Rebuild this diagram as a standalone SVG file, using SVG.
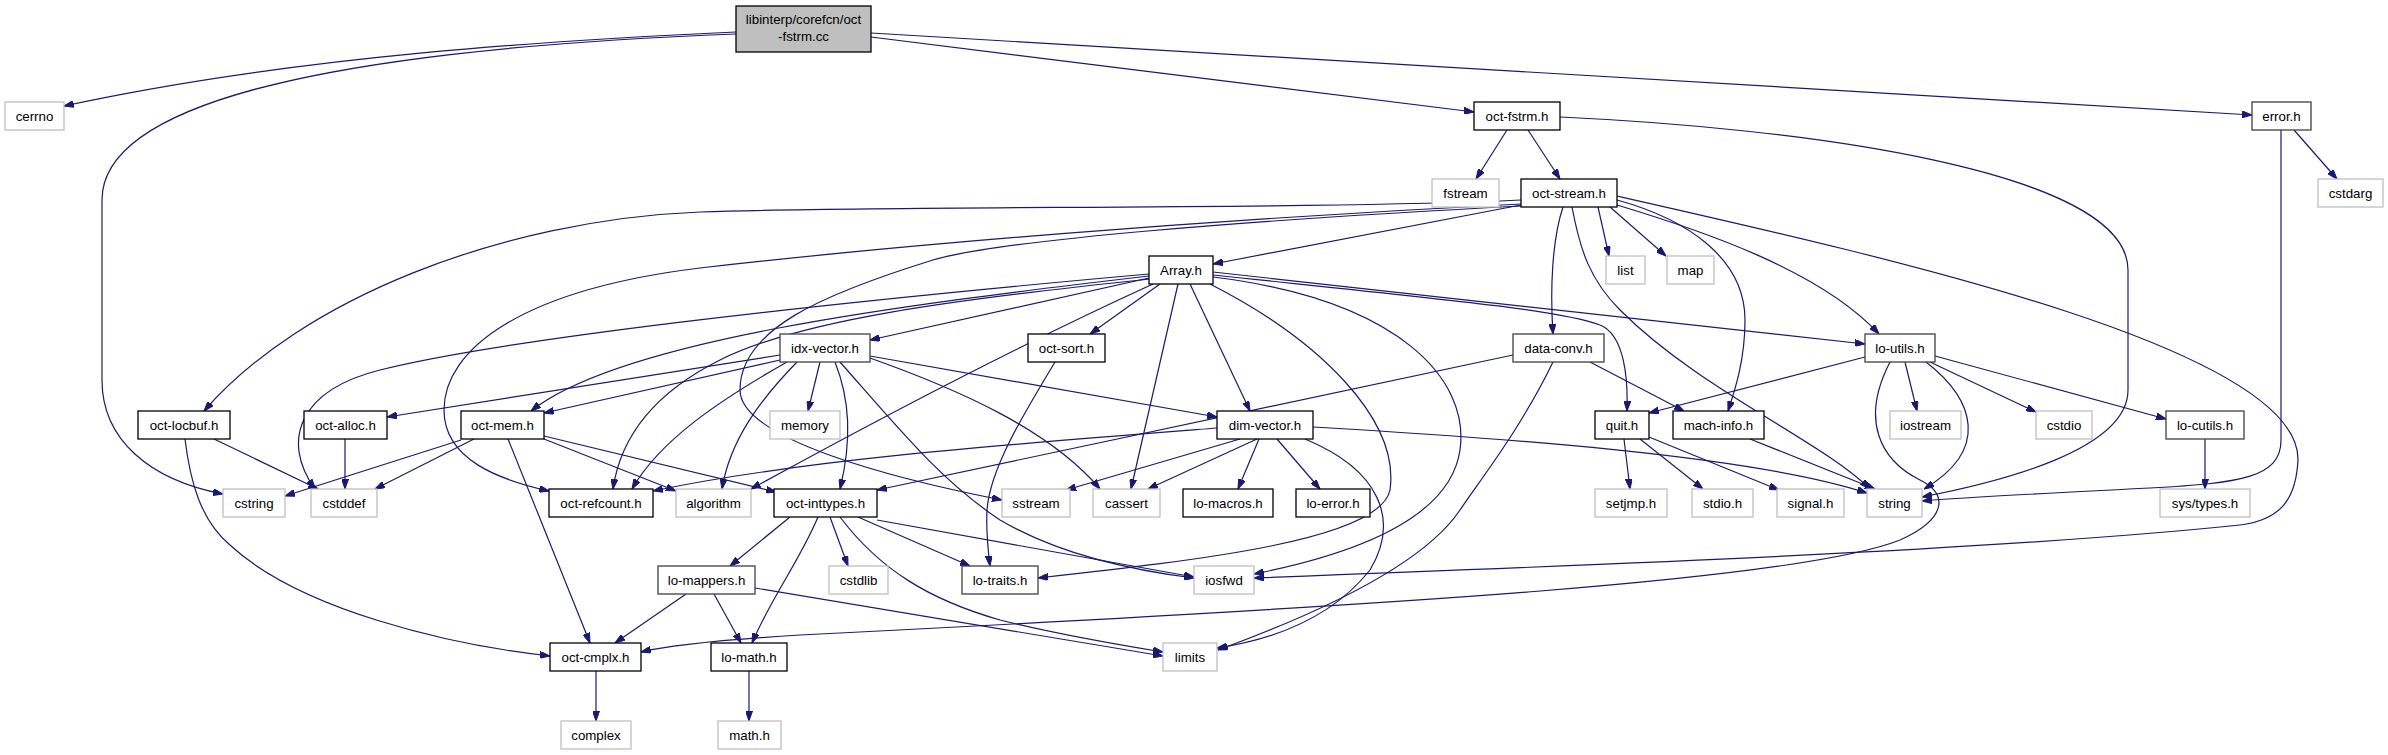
<svg xmlns="http://www.w3.org/2000/svg" width="2388" height="755" viewBox="0 0 2388 755">
<style>
.node rect{fill:#ffffff;stroke:#000000;stroke-width:1.3}
.node.ext rect{stroke:#bfbfbf}
.node.dk rect{stroke:#404040}
.node.main rect{fill:#bfbfbf}
.node text{font-family:"Liberation Sans",Arial,Helvetica,sans-serif;font-size:13.3px;fill:#000000;text-anchor:middle}
#edges path{fill:none;stroke:#191970;stroke-width:1.2;marker-end:url(#arr)}
</style>
<defs>
<marker id="arr" viewBox="0 0 10 7" refX="10" refY="3.5" markerWidth="10" markerHeight="7" markerUnits="userSpaceOnUse" orient="auto">
<path d="M0,0 L10,3.5 L0,7 z" fill="#191970" stroke="#191970"/>
</marker>
</defs>
<rect width="2388" height="755" fill="#ffffff"/>
<g id="edges">
<path d="M736,32 C560,40 300,55 64,106"/>
<path d="M736,34 C450,45 102,80 102,200 L102,380 C102,440 150,480 223,494"/>
<path d="M871,37 L1474,112"/>
<path d="M871,33 L2252,115"/>
<path d="M1507,130 L1476,179"/>
<path d="M1528,130 L1560,179"/>
<path d="M1560,117 C1800,128 2128,170 2128,270 L2128,390 C2128,450 2000,482 1922,497"/>
<path d="M2294,130 L2337,179"/>
<path d="M2281,130 L2281,440 C2281,478 2240,483 2150,488 C2050,493 1970,497 1922,501"/>
<path d="M1521,200 C1300,210 900,205 700,212 C500,220 300,300 204,411"/>
<path d="M1521,204 C1200,220 900,245 700,268 C520,290 444,350 444,410 C444,460 500,480 549,491"/>
<path d="M1521,206 C1250,220 1000,240 933,260 C820,295 740,330 740,390 C740,440 900,480 1002,500"/>
<path d="M1521,205 L1213,264"/>
<path d="M1598,207 L1609,256"/>
<path d="M1610,207 L1666,256"/>
<path d="M1563,207 C1552,240 1550,290 1553,334"/>
<path d="M1617,200 C1690,220 1745,260 1745,320 C1745,360 1735,390 1728,411"/>
<path d="M1572,207 C1580,250 1590,280 1620,310 C1700,390 1820,440 1870,489"/>
<path d="M1617,205 C1700,230 1820,270 1879,334"/>
<path d="M1617,196 C1900,260 2300,350 2298,460 C2296,500 2280,520 2240,525 C2000,550 1600,565 1254,578"/>
<path d="M1149,274 C800,305 500,340 380,370 C300,390 280,440 315,489"/>
<path d="M1149,276 C900,305 620,340 531,411"/>
<path d="M1150,279 C950,300 800,320 720,360 C650,395 620,440 613,489"/>
<path d="M1153,284 Q982,362 751,489"/>
<path d="M1149,278 L870,340"/>
<path d="M1160,284 L1090,334"/>
<path d="M1178,284 L1131,489"/>
<path d="M1190,284 L1250,411"/>
<path d="M1210,284 C1320,340 1400,420 1390,490 C1380,540 1200,560 1038,578"/>
<path d="M1213,277 C1400,300 1470,380 1460,450 C1450,520 1350,555 1254,574"/>
<path d="M1213,272 L1865,344"/>
<path d="M1213,275 C1450,300 1560,310 1600,325 C1625,335 1628,380 1627,411"/>
<path d="M780,355 L387,417"/>
<path d="M780,360 L544,413"/>
<path d="M787,362 C720,400 660,440 632,489"/>
<path d="M797,362 C760,400 730,440 722,489"/>
<path d="M820,362 L808,411"/>
<path d="M835,362 C850,400 852,440 840,489"/>
<path d="M840,362 C900,430 940,480 1000,520 C1060,555 1130,570 1194,578"/>
<path d="M870,358 C960,390 1050,430 1100,489"/>
<path d="M870,356 L1217,417"/>
<path d="M1055,362 C1020,420 990,470 987,510 C986,530 988,550 990,566"/>
<path d="M1513,355 L877,490"/>
<path d="M1553,362 C1520,430 1480,480 1460,510 C1420,570 1300,620 1218,650"/>
<path d="M1590,362 L1684,411"/>
<path d="M1865,357 L1649,413"/>
<path d="M1905,362 L1917,411"/>
<path d="M1926,362 C1975,400 1990,450 1924,489"/>
<path d="M1930,362 L2036,412"/>
<path d="M1935,356 L2166,419"/>
<path d="M1890,362 C1860,420 1880,460 1920,480 C1950,495 1945,520 1900,540 C1800,580 1400,605 800,635 C720,640 670,645 641,652"/>
<path d="M214,439 L318,489"/>
<path d="M185,439 C190,480 200,520 230,545 C300,610 450,645 550,656"/>
<path d="M345,439 L345,489"/>
<path d="M461,440 L285,496"/>
<path d="M474,439 L375,489"/>
<path d="M508,439 L590,643"/>
<path d="M544,439 L676,491"/>
<path d="M544,436 L776,492"/>
<path d="M1217,428 C1000,445 800,460 653,491"/>
<path d="M1240,439 L1066,490"/>
<path d="M1257,439 L1148,489"/>
<path d="M1259,439 L1238,489"/>
<path d="M1277,439 L1320,489"/>
<path d="M1305,439 C1380,470 1400,520 1370,570 C1330,620 1270,640 1217,648"/>
<path d="M1313,427 C1500,438 1750,455 1867,493"/>
<path d="M1624,439 L1630,489"/>
<path d="M1640,439 L1703,489"/>
<path d="M1649,437 L1779,490"/>
<path d="M1750,439 L1875,489"/>
<path d="M2205,439 L2205,489"/>
<path d="M830,517 L848,566"/>
<path d="M858,517 L970,566"/>
<path d="M877,520 L1194,577"/>
<path d="M840,517 C880,570 930,600 1000,620 C1060,635 1120,645 1163,652"/>
<path d="M818,517 C800,560 770,600 752,643"/>
<path d="M790,517 L730,566"/>
<path d="M686,594 L615,643"/>
<path d="M714,594 L741,643"/>
<path d="M755,588 L1163,656"/>
<path d="M596,671 L596,721"/>
<path d="M749,671 L749,721"/>
</g>
<g id="n_main" class="node main"><rect x="736" y="6" width="135" height="46"/><text x="803.5" y="24">libinterp/corefcn/oct</text><text x="803.5" y="41">-fstrm.cc</text></g>
<g id="n_cerrno" class="node ext"><rect x="5" y="102" width="59" height="28"/><text x="34.5" y="121">cerrno</text></g>
<g id="n_oct_fstrm_h" class="node"><rect x="1474" y="102" width="86" height="28"/><text x="1517" y="121">oct-fstrm.h</text></g>
<g id="n_error_h" class="node dk"><rect x="2252" y="102" width="59" height="28"/><text x="2281.5" y="121">error.h</text></g>
<g id="n_fstream" class="node ext"><rect x="1432" y="179" width="67" height="28"/><text x="1465.5" y="198">fstream</text></g>
<g id="n_oct_stream_h" class="node"><rect x="1521" y="179" width="96" height="28"/><text x="1569" y="198">oct-stream.h</text></g>
<g id="n_cstdarg" class="node ext"><rect x="2318" y="179" width="65" height="28"/><text x="2350.5" y="198">cstdarg</text></g>
<g id="n_Array_h" class="node"><rect x="1149" y="256" width="64" height="28"/><text x="1181" y="275">Array.h</text></g>
<g id="n_list" class="node ext"><rect x="1606" y="256" width="39" height="28"/><text x="1625.5" y="275">list</text></g>
<g id="n_map" class="node ext"><rect x="1667" y="256" width="47" height="28"/><text x="1690.5" y="275">map</text></g>
<g id="n_idx_vector_h" class="node dk"><rect x="780" y="334" width="90" height="28"/><text x="825" y="353">idx-vector.h</text></g>
<g id="n_oct_sort_h" class="node"><rect x="1028" y="334" width="77" height="28"/><text x="1066.5" y="353">oct-sort.h</text></g>
<g id="n_data_conv_h" class="node dk"><rect x="1513" y="334" width="91" height="28"/><text x="1558.5" y="353">data-conv.h</text></g>
<g id="n_lo_utils_h" class="node dk"><rect x="1865" y="334" width="70" height="28"/><text x="1900" y="353">lo-utils.h</text></g>
<g id="n_oct_locbuf_h" class="node"><rect x="138" y="411" width="92" height="28"/><text x="184" y="430">oct-locbuf.h</text></g>
<g id="n_oct_alloc_h" class="node"><rect x="304" y="411" width="83" height="28"/><text x="345.5" y="430">oct-alloc.h</text></g>
<g id="n_oct_mem_h" class="node"><rect x="461" y="411" width="83" height="28"/><text x="502.5" y="430">oct-mem.h</text></g>
<g id="n_memory" class="node ext"><rect x="770" y="411" width="70" height="28"/><text x="805" y="430">memory</text></g>
<g id="n_dim_vector_h" class="node"><rect x="1217" y="411" width="96" height="28"/><text x="1265" y="430">dim-vector.h</text></g>
<g id="n_quit_h" class="node"><rect x="1595" y="411" width="54" height="28"/><text x="1622" y="430">quit.h</text></g>
<g id="n_mach_info_h" class="node"><rect x="1673" y="411" width="91" height="28"/><text x="1718.5" y="430">mach-info.h</text></g>
<g id="n_iostream" class="node ext"><rect x="1890" y="411" width="71" height="28"/><text x="1925.5" y="430">iostream</text></g>
<g id="n_cstdio" class="node ext"><rect x="2036" y="411" width="56" height="28"/><text x="2064" y="430">cstdio</text></g>
<g id="n_lo_cutils_h" class="node dk"><rect x="2166" y="411" width="78" height="28"/><text x="2205" y="430">lo-cutils.h</text></g>
<g id="n_cstring" class="node ext"><rect x="223" y="489" width="62" height="28"/><text x="254" y="508">cstring</text></g>
<g id="n_cstddef" class="node ext"><rect x="311" y="489" width="66" height="28"/><text x="344" y="508">cstddef</text></g>
<g id="n_oct_refcount_h" class="node"><rect x="549" y="489" width="104" height="28"/><text x="601" y="508">oct-refcount.h</text></g>
<g id="n_algorithm" class="node ext"><rect x="676" y="489" width="75" height="28"/><text x="713.5" y="508">algorithm</text></g>
<g id="n_oct_inttypes_h" class="node"><rect x="774" y="489" width="103" height="28"/><text x="825.5" y="508">oct-inttypes.h</text></g>
<g id="n_sstream" class="node ext"><rect x="1002" y="489" width="68" height="28"/><text x="1036" y="508">sstream</text></g>
<g id="n_cassert" class="node ext"><rect x="1093" y="489" width="67" height="28"/><text x="1126.5" y="508">cassert</text></g>
<g id="n_lo_macros_h" class="node"><rect x="1183" y="489" width="90" height="28"/><text x="1228" y="508">lo-macros.h</text></g>
<g id="n_lo_error_h" class="node"><rect x="1296" y="489" width="74" height="28"/><text x="1333" y="508">lo-error.h</text></g>
<g id="n_setjmp_h" class="node ext"><rect x="1595" y="489" width="72" height="28"/><text x="1631" y="508">setjmp.h</text></g>
<g id="n_stdio_h" class="node ext"><rect x="1692" y="489" width="61" height="28"/><text x="1722.5" y="508">stdio.h</text></g>
<g id="n_signal_h" class="node ext"><rect x="1777" y="489" width="67" height="28"/><text x="1810.5" y="508">signal.h</text></g>
<g id="n_string" class="node ext"><rect x="1867" y="489" width="55" height="28"/><text x="1894.5" y="508">string</text></g>
<g id="n_sys_types_h" class="node ext"><rect x="2160" y="489" width="90" height="28"/><text x="2205" y="508">sys/types.h</text></g>
<g id="n_lo_mappers_h" class="node dk"><rect x="658" y="566" width="97" height="28"/><text x="706.5" y="585">lo-mappers.h</text></g>
<g id="n_cstdlib" class="node ext"><rect x="829" y="566" width="59" height="28"/><text x="858.5" y="585">cstdlib</text></g>
<g id="n_lo_traits_h" class="node dk"><rect x="962" y="566" width="76" height="28"/><text x="1000" y="585">lo-traits.h</text></g>
<g id="n_iosfwd" class="node ext"><rect x="1194" y="566" width="60" height="28"/><text x="1224" y="585">iosfwd</text></g>
<g id="n_oct_cmplx_h" class="node"><rect x="550" y="643" width="91" height="28"/><text x="595.5" y="662">oct-cmplx.h</text></g>
<g id="n_lo_math_h" class="node"><rect x="711" y="643" width="76" height="28"/><text x="749" y="662">lo-math.h</text></g>
<g id="n_limits" class="node ext"><rect x="1163" y="643" width="54" height="28"/><text x="1190" y="662">limits</text></g>
<g id="n_complex" class="node ext"><rect x="561" y="721" width="70" height="28"/><text x="596" y="740">complex</text></g>
<g id="n_math_h" class="node ext"><rect x="718" y="721" width="63" height="28"/><text x="749.5" y="740">math.h</text></g>
</svg>
